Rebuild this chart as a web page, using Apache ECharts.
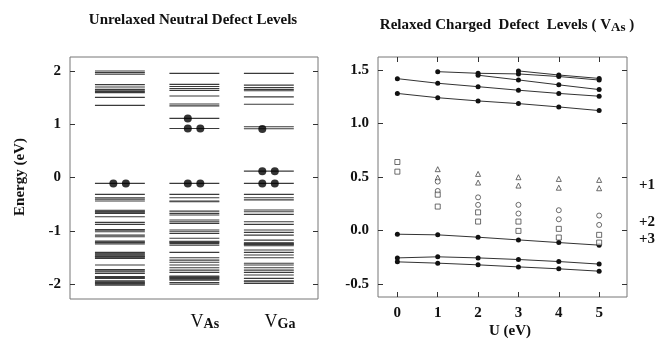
<!DOCTYPE html>
<html>
<head>
<meta charset="utf-8">
<script src="https://cdn.jsdelivr.net/npm/echarts@6/dist/echarts.min.js"></script>
<style>
html,body{margin:0;padding:0;background:#fff;}
#c{width:661px;height:350px;}
</style>
</head>
<body>
<div id="c"></div>
<script>
// ---------- Left panel: unrelaxed neutral defect levels (eV) ----------
const columnSubscripts = ['', 'As', 'Ga'];
const perfectLevels = [2.00, 1.97, 1.94, 1.745, 1.70, 1.655, 1.63, 1.615, 1.595, 1.505, 1.355,
  -0.11,
  -0.316, -0.38, -0.405, -0.44, -0.615, -0.63, -0.645, -0.66, -0.675, -0.736, -0.842, -0.88,
  -0.975, -0.99, -1.017, -1.08, -1.11, -1.19, -1.205, -1.22, -1.245, -1.405, -1.42, -1.436,
  -1.45, -1.468, -1.48, -1.49, -1.505, -1.52, -1.643, -1.725, -1.75, -1.77, -1.8, -1.86,
  -1.875, -1.893, -1.94, -1.956, -1.97, -1.987, -2.0, -2.02];
const vAsLevels = [1.955, 1.75, 1.71, 1.67, 1.635, 1.53, 1.38, 1.345, 1.11, 0.92,
  -0.11,
  -0.316, -0.379, -0.44, -0.455, -0.63, -0.673, -0.704, -0.798, -0.83, -0.86, -0.986, -1.017,
  -1.05, -1.14, -1.195, -1.205, -1.22, -1.236, -1.268, -1.405, -1.505, -1.55, -1.59, -1.643,
  -1.693, -1.737, -1.78, -1.85, -1.862, -1.875, -1.893, -1.91, -1.925, -1.97, -2.0];
const vGaLevels = [1.955, 1.735, 1.69, 1.655, 1.63, 1.515, 1.375, 0.953, 0.915, 0.12,
  -0.11,
  -0.316, -0.379, -0.42, -0.61, -0.642, -0.692, -0.83, -0.88, -0.986, -1.03, -1.08, -1.174,
  -1.225, -1.236, -1.25, -1.26, -1.28, -1.36, -1.405, -1.455, -1.505, -1.61, -1.643, -1.693,
  -1.737, -1.78, -1.83, -1.893, -1.94, -1.956, -1.987];
// occupied levels: [energy, number of electrons drawn as dots]
const perfectDots = [[-0.11, 2]];
const vAsDots = [[1.11, 1], [0.92, 2], [-0.11, 2]];
const vGaDots = [[0.91, 1], [0.12, 2], [-0.11, 2]];
const energyTicks = [-2, -1, 0, 1, 2];

// ---------- Right panel: relaxed charged defect levels vs U ----------
const uValues = [0, 1, 2, 3, 4, 5];
const filledLines = [
  [null, 1.483, 1.468, 1.462, 1.438, 1.405],
  [null, null, 1.450, 1.406, 1.360, 1.316],
  [null, null, null, 1.490, 1.452, 1.420],
  [1.418, 1.375, 1.343, 1.310, 1.280, 1.254],
  [1.280, 1.240, 1.210, 1.185, 1.154, 1.120],
  [-0.034, -0.040, -0.062, -0.087, -0.112, -0.136],
  [-0.255, -0.245, -0.255, -0.270, -0.289, -0.313],
  [-0.292, -0.304, -0.320, -0.339, -0.357, -0.379]
];
const chargePlus1 = [[1, 0.573], [1, 0.494], [2, 0.529], [2, 0.448], [3, 0.498], [3, 0.420],
  [4, 0.482], [4, 0.400], [5, 0.473], [5, 0.395]];
const chargePlus2 = [[1, 0.457], [1, 0.370], [2, 0.310], [2, 0.240], [3, 0.240], [3, 0.159],
  [4, 0.190], [4, 0.105], [5, 0.140], [5, 0.053]];
const chargePlus3 = [[0, 0.640], [0, 0.550], [1, 0.335], [1, 0.224], [2, 0.170], [2, 0.084],
  [3, 0.084], [3, -0.003], [4, 0.016], [4, -0.065], [5, -0.040], [5, -0.112]];
const rightTicks = [-0.5, 0, 0.5, 1.0, 1.5];
const chargeLabels = ['+1', '+2', '+3'];

// ---------- build ----------
const FONT = '"Liberation Serif", "DejaVu Serif", serif';
const HALF = 0.335;
const levelColumns = [perfectLevels, vAsLevels, vGaLevels];
const dotColumns = [perfectDots, vAsDots, vGaDots];

const levelData = [];
levelColumns.forEach((arr, i) => arr.forEach(e => levelData.push([i + 1, e])));
const dotData = [];
dotColumns.forEach((arr, i) => arr.forEach(([e, n]) => {
  dotData.push([i + 1 - 0.088, e]);
  if (n > 1) dotData.push([i + 1 + 0.08, e]);
}));

const chart = echarts.init(document.getElementById('c'), null, {renderer: 'canvas'});

const tickStyle = {show: true, inside: true, length: 5, lineStyle: {color: '#333', width: 1}};
const labelBase = {fontFamily: FONT, fontSize: 15, fontWeight: 'bold', color: '#111'};
const noLine = {show: false, onZero: false};

const series = [
  {
    type: 'custom', xAxisIndex: 0, yAxisIndex: 0, data: levelData, clip: true,
    renderItem: (params, api) => {
      const c = api.value(0), e = api.value(1);
      const p1 = api.coord([c - HALF, e]);
      const p2 = api.coord([c + HALF, e]);
      return {type: 'line', shape: {x1: p1[0], y1: p1[1], x2: p2[0], y2: p2[1]},
        style: {stroke: '#3a3a3a', lineWidth: 1.1}};
    }
  },
  {
    type: 'scatter', xAxisIndex: 0, yAxisIndex: 0, data: dotData, symbol: 'circle', symbolSize: 8,
    itemStyle: {color: '#000'}, z: 5
  }
];
filledLines.forEach(vals => {
  const d = [];
  vals.forEach((v, i) => { if (v !== null) d.push([uValues[i], v]); });
  series.push({type: 'line', xAxisIndex: 1, yAxisIndex: 2, data: d, symbol: 'circle', symbolSize: 5,
    itemStyle: {color: '#111'}, lineStyle: {color: '#333', width: 1}});
});
[[chargePlus1, 'triangle', 5], [chargePlus2, 'circle', 5], [chargePlus3, 'rect', 5]].forEach(([d, sym, sz]) => {
  series.push({type: 'scatter', xAxisIndex: 1, yAxisIndex: 2, data: d, symbol: sym, symbolSize: sz,
    itemStyle: {color: '#fff', borderColor: '#333', borderWidth: 0.9}, z: 4});
});

const option = {
  animation: false,
  backgroundColor: '#fff',
  grid: [
    {left: 70, top: 57, width: 248, height: 242, show: true, borderColor: '#777', borderWidth: 1, backgroundColor: 'transparent'},
    {left: 378, top: 57, width: 249, height: 240, show: true, borderColor: '#777', borderWidth: 1, backgroundColor: 'transparent'}
  ],
  xAxis: [
    {gridIndex: 0, type: 'value', min: 0.33, max: 3.66, axisLine: noLine, axisTick: {show: false},
      splitLine: {show: false},
      axisLabel: {customValues: [2.14, 3.15], margin: 14,
        formatter: v => '{v|V}{s|' + columnSubscripts[Math.round(v) - 1] + '}',
        rich: {v: {fontFamily: FONT, fontSize: 18, lineHeight: 18, verticalAlign: 'top', color: '#111'},
               s: {fontFamily: FONT, fontSize: 14, fontWeight: 'bold', lineHeight: 14, padding: [10, 0, 0, 0], verticalAlign: 'bottom', color: '#111'}}}},
    {gridIndex: 1, type: 'value', position: 'bottom', min: -0.48, max: 5.69, axisLine: noLine, splitLine: {show: false},
      axisTick: Object.assign({customValues: uValues}, tickStyle),
      axisLabel: Object.assign({customValues: uValues, margin: 9}, labelBase)},
    {gridIndex: 1, type: 'value', position: 'top', min: -0.48, max: 5.69, axisLine: noLine, splitLine: {show: false},
      axisTick: Object.assign({customValues: uValues}, tickStyle), axisLabel: {show: false}}
  ],
  yAxis: [
    {gridIndex: 0, type: 'value', position: 'left', min: -2.28, max: 2.263, axisLine: noLine, splitLine: {show: false},
      axisTick: Object.assign({customValues: energyTicks}, tickStyle),
      axisLabel: Object.assign({customValues: energyTicks, margin: 9, formatter: v => String(v)}, labelBase)},
    {gridIndex: 0, type: 'value', position: 'right', min: -2.28, max: 2.263, axisLine: noLine, splitLine: {show: false},
      axisTick: Object.assign({customValues: energyTicks}, tickStyle), axisLabel: {show: false}},
    {gridIndex: 1, type: 'value', position: 'left', min: -0.62, max: 1.62, axisLine: noLine, splitLine: {show: false},
      axisTick: Object.assign({customValues: rightTicks}, tickStyle),
      axisLabel: Object.assign({customValues: rightTicks, margin: 9, formatter: v => v.toFixed(1)}, labelBase)},
    {gridIndex: 1, type: 'value', position: 'right', min: -0.62, max: 1.62, axisLine: noLine, splitLine: {show: false},
      axisTick: Object.assign({customValues: rightTicks}, tickStyle), axisLabel: {show: false}}
  ],
  graphic: [
    {type: 'text', x: 193, y: 20, style: {text: 'Unrelaxed Neutral Defect Levels', fontFamily: FONT, fontSize: 15, fontWeight: 'bold', fill: '#111', align: 'center', verticalAlign: 'middle'}},
    {type: 'text', x: 507, y: 26, style: {text: '{t|Relaxed Charged  Defect  Levels ( V}{s|As}{t| )}', fill: '#111', align: 'center', verticalAlign: 'middle',
      rich: {t: {fontFamily: FONT, fontSize: 15, fontWeight: 'bold', lineHeight: 16, verticalAlign: 'top', fill: '#111'},
             s: {fontFamily: FONT, fontSize: 13, fontWeight: 'bold', lineHeight: 13, padding: [9, 0, 0, 0], verticalAlign: 'bottom', fill: '#111'}}}},
    {type: 'text', x: 20, y: 177, rotation: Math.PI / 2, style: {text: 'Energy (eV)', fontFamily: FONT, fontSize: 15, fontWeight: 'bold', fill: '#111', align: 'center', verticalAlign: 'middle'}},
    {type: 'text', x: 510, y: 331, style: {text: 'U (eV)', fontFamily: FONT, fontSize: 15, fontWeight: 'bold', fill: '#111', align: 'center', verticalAlign: 'middle'}},
    {type: 'text', x: 647, y: 185, style: {text: chargeLabels[0], fontFamily: FONT, fontSize: 15, fontWeight: 'bold', fill: '#111', align: 'center', verticalAlign: 'middle'}},
    {type: 'text', x: 647, y: 222, style: {text: chargeLabels[1], fontFamily: FONT, fontSize: 15, fontWeight: 'bold', fill: '#111', align: 'center', verticalAlign: 'middle'}},
    {type: 'text', x: 647, y: 239, style: {text: chargeLabels[2], fontFamily: FONT, fontSize: 15, fontWeight: 'bold', fill: '#111', align: 'center', verticalAlign: 'middle'}}
  ],
  series: series
};
chart.setOption(option);
</script>
</body>
</html>
